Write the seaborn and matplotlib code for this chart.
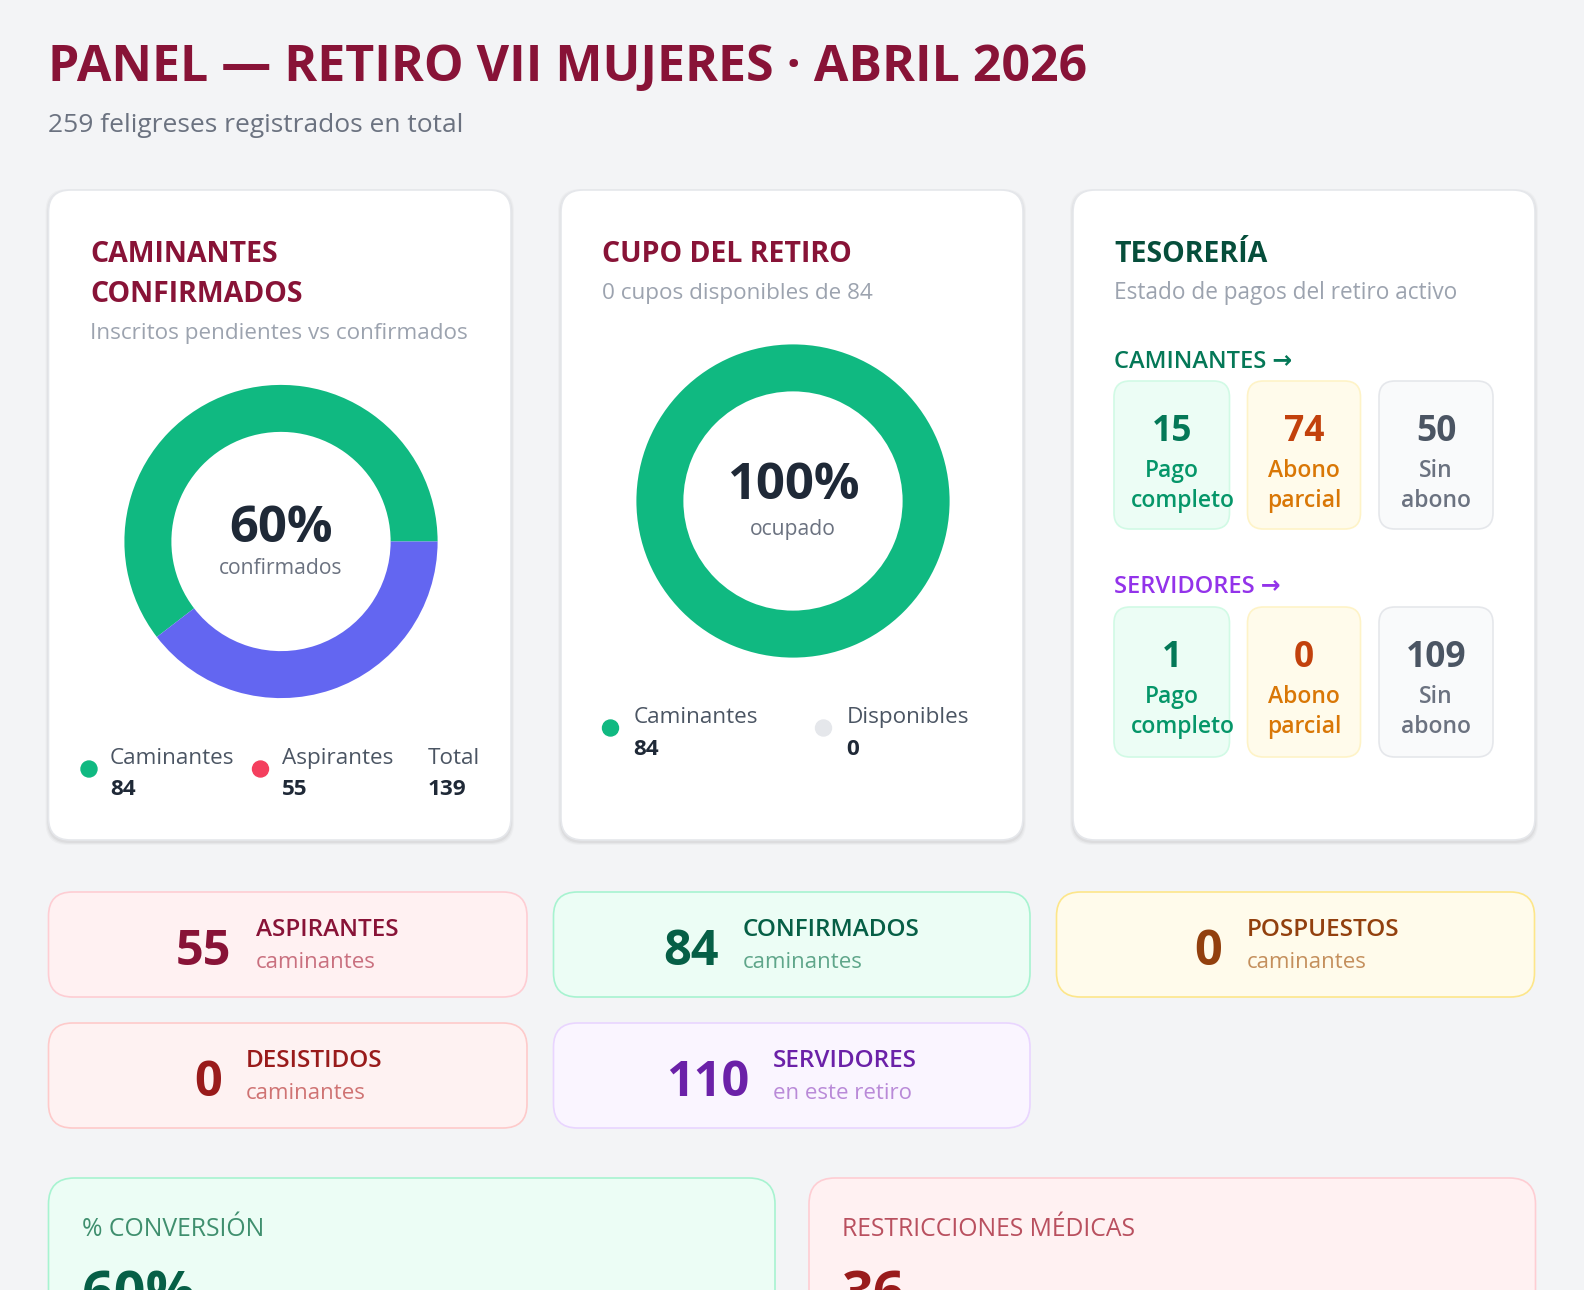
import numpy as np
import matplotlib
matplotlib.use("Agg")
import matplotlib.pyplot as plt
from matplotlib.patches import FancyBboxPatch, Circle
import seaborn as sns

# datos del panel
titulo = "PANEL — RETIRO VII MUJERES · ABRIL 2026"
total_feligreses = 259

confirm_labels = ["Caminantes", "Aspirantes"]
confirm_values = [84, 55]

cupo_labels = ["Caminantes", "Disponibles"]
cupo_values = [84, 0]

pago_labels = ["Pago\ncompleto", "Abono\nparcial", "Sin\nabono"]
pago_caminantes = [15, 74, 50]
pago_servidores = [1, 0, 109]

estado_labels = ["ASPIRANTES", "CONFIRMADOS", "POSPUESTOS", "DESISTIDOS", "SERVIDORES"]
estado_sub = ["caminantes", "caminantes", "caminantes", "caminantes", "en este retiro"]
estado_values = [55, 84, 0, 0, 110]

conversion_pct = 60
restricciones_medicas = 36

sns.set_theme(style="white")
plt.rcParams["font.family"] = ["Open Sans", "DejaVu Sans"]

W, H = 1584, 1290
BG = "#f3f4f6"
CRIMSON = "#881337"
GREEN = "#10b981"

fig = plt.figure(figsize=(W / 100, H / 100), dpi=100, facecolor=BG)
ax = fig.add_axes([0, 0, 1, 1])
ax.set_xlim(0, W)
ax.set_ylim(H, 0)
ax.axis("off")
renderer = fig.canvas.get_renderer()


def txt(x, y, s, size, color, weight="normal", ha="left", **kw):
    return ax.text(x, y, s, fontsize=size, color=color, fontweight=weight, ha=ha, va="baseline", **kw)


def card(x0, y0, x1, y1, fc, ec, r=20, shadow=False, lw=1.2):
    style = f"round,pad=0,rounding_size={r}"
    if shadow:
        for i, a in enumerate([0.025, 0.03, 0.04]):
            g = 3 - i
            ax.add_patch(FancyBboxPatch((x0 - g, y0 - g + 2), x1 - x0 + 2 * g, y1 - y0 + 2 * g,
                                        boxstyle=style, fc="#000000", ec="none", alpha=a, zorder=1))
    ax.add_patch(FancyBboxPatch((x0, y0), x1 - x0, y1 - y0, boxstyle=style,
                                fc=fc, ec=ec, lw=lw, zorder=2))


def donut_ax(cx, cy, r):
    return fig.add_axes([(cx - r) / W, 1 - (cy + r) / H, 2 * r / W, 2 * r / H])


# encabezado
txt(48.5, 81, titulo, 36, CRIMSON, "bold")
txt(48.5, 132.5, f"{total_feligreses} feligreses registrados en total", 19, "#6b7280")

# fila de tarjetas blancas
cols = [(48.5, 511), (561, 1023), (1073, 1535)]
for x0, x1 in cols:
    card(x0, 190, x1, 840, "white", "#e5e7eb", r=22, shadow=True)

# --- tarjeta 1: caminantes confirmados
x = 90
txt(x, 261.5, "CAMINANTES", 20.5, CRIMSON, "bold")
txt(x, 301.5, "CONFIRMADOS", 20.5, CRIMSON, "bold")
txt(x, 339.5, "Inscritos pendientes vs confirmados", 16.2, "#9ca3af")

total_conf = sum(confirm_values)
pct_conf = round(100 * confirm_values[0] / total_conf)
d1 = donut_ax(281, 541.5, 156.6)
d1.pie(confirm_values, colors=[GREEN, "#6366f1"], startangle=0, counterclock=True,
       wedgeprops=dict(width=0.30, linewidth=0))
d1.set_xlim(-1, 1)
d1.set_ylim(-1, 1)
d1.set_aspect("equal")
txt(281, 541.5, f"{pct_conf}%", 36.5, "#1f2937", "bold", ha="center")
txt(281, 574, "confirmados", 15.2, "#6b7280", ha="center")

leg1 = [(89, GREEN, confirm_labels[0], confirm_values[0]),
        (260.5, "#f43f5e", confirm_labels[1], confirm_values[1])]
for lx, c, lab, v in leg1:
    ax.add_patch(Circle((lx, 769), 8, color=c, zorder=3))
    txt(lx + 21, 764, lab, 16.2, "#4b5563")
    txt(lx + 21, 795, str(v), 16.2, "#1f2937", "bold")
txt(428, 764, "Total", 16.2, "#4b5563")
txt(428, 795, str(total_conf), 16.2, "#1f2937", "bold")

# --- tarjeta 2: cupo del retiro
x = 602
cupo_total = sum(cupo_values)
txt(x, 261.5, "CUPO DEL RETIRO", 20.5, CRIMSON, "bold")
txt(x, 299, f"{cupo_values[1]} cupos disponibles de {cupo_total}", 16.2, "#9ca3af")
d2 = donut_ax(793, 501, 156.6)
d2.pie(cupo_values, colors=[GREEN, "#e5e7eb"], startangle=0, counterclock=True,
       wedgeprops=dict(width=0.30, linewidth=0))
d2.set_xlim(-1, 1)
d2.set_ylim(-1, 1)
d2.set_aspect("equal")
pct_cupo = round(100 * cupo_values[0] / cupo_total)
txt(793, 499, f"{pct_cupo}%", 36.5, "#1f2937", "bold", ha="center")
txt(793, 535.5, "ocupado", 15.2, "#6b7280", ha="center")

leg2 = [(610.5, GREEN, cupo_labels[0], cupo_values[0]),
        (823.5, "#e5e7eb", cupo_labels[1], cupo_values[1])]
for lx, c, lab, v in leg2:
    ax.add_patch(Circle((lx, 728), 8, color=c, zorder=3))
    txt(lx + 23, 723, lab, 16.2, "#4b5563")
    txt(lx + 23, 755, str(v), 16.2, "#1f2937", "bold")

# --- tarjeta 3: tesorería
x = 1114
txt(x, 261.5, "TESORERÍA", 20.5, "#064e3b", "bold")
txt(x, 299, "Estado de pagos del retiro activo", 16.3, "#9ca3af")

box_x = [(1114, 1229.5), (1247.5, 1360.5), (1379, 1493)]
box_fc = ["#ecfdf5", "#fffbeb", "#f9fafb"]
box_ec = ["#d1fae5", "#fef3c7", "#e5e7eb"]
num_c = ["#047857", "#c2410c", "#4b5563"]
lab_c = ["#059669", "#d97706", "#6b7280"]
PAD = 17

grupos = [("CAMINANTES →", "#047857", 367.5, 381, 529, pago_caminantes),
          ("SERVIDORES →", "#9333ea", 593, 607, 757, pago_servidores)]
for head, hc, hy, y0, y1, vals in grupos:
    txt(x, hy, head, 17, hc, "semibold")
    for (bx0, bx1), fc, ec, nc, lc, lab, v in zip(box_x, box_fc, box_ec, num_c, lab_c, pago_labels, vals):
        card(bx0, y0, bx1, y1, fc, ec, r=16)
        cx = (bx0 + bx1) / 2
        txt(cx, y0 + 60, str(v), 25.5, nc, "bold", ha="center", zorder=4)
        for k, linea in enumerate(lab.split("\n")):
            t = txt(cx, y0 + 96 + 30 * k, linea, 16.5, lc, "semibold", ha="center", zorder=4)
            # una palabra más ancha que la caja se desborda desde el margen izquierdo
            if t.get_window_extent(renderer).width > (bx1 - bx0) - 2 * PAD:
                t.set_ha("left")
                t.set_x(bx0 + PAD)

# fila de estados
est_box = [(48.5, 892, 527, 997), (553.5, 892, 1030, 997), (1056.5, 892, 1534.5, 997),
           (48.5, 1023, 527, 1128), (553.5, 1023, 1030, 1128)]
est_fc = ["#fff1f2", "#ecfdf5", "#fffbeb", "#fef2f2", "#faf5ff"]
est_ec = ["#fecdd3", "#a7f3d0", "#fde68a", "#fecaca", "#e9d5ff"]
est_num = ["#881337", "#065f46", "#92400e", "#991b1b", "#6b21a8"]
est_sub_c = ["#c9707f", "#5fa68a", "#c48f5c", "#cf7373", "#b98ad8"]
est_lab_x = [255.5, 742.5, 1246.5, 245.5, 773]
for (x0, y0, x1, y1), fc, ec, nc, sc, lx, lab, sub, v in zip(
        est_box, est_fc, est_ec, est_num, est_sub_c, est_lab_x, estado_labels, estado_sub, estado_values):
    card(x0, y0, x1, y1, fc, ec, r=24)
    txt(lx - 24, y0 + 73, str(v), 35, nc, "bold", ha="right", zorder=4)
    txt(lx, y0 + 44, lab, 17.5, nc, "semibold", zorder=4)
    txt(lx, y0 + 76, sub, 16, sc, zorder=4)

# indicadores inferiores
card(48.5, 1178, 775, 1400, "#ecfdf5", "#a7f3d0", r=26)
card(809, 1178, 1535.5, 1400, "#fff1f2", "#fecdd3", r=26)
txt(82, 1235.5, "% CONVERSIÓN", 17.8, "#3f8f6e", zorder=4)
txt(82, 1311, f"{conversion_pct}%", 40, "#065f46", "bold", zorder=4)
txt(842, 1235.5, "RESTRICCIONES MÉDICAS", 17.8, "#b9505f", zorder=4)
txt(842, 1311, str(restricciones_medicas), 40, "#991b1b", "bold", zorder=4)

fig.savefig("out.png", dpi=100, facecolor=BG)
